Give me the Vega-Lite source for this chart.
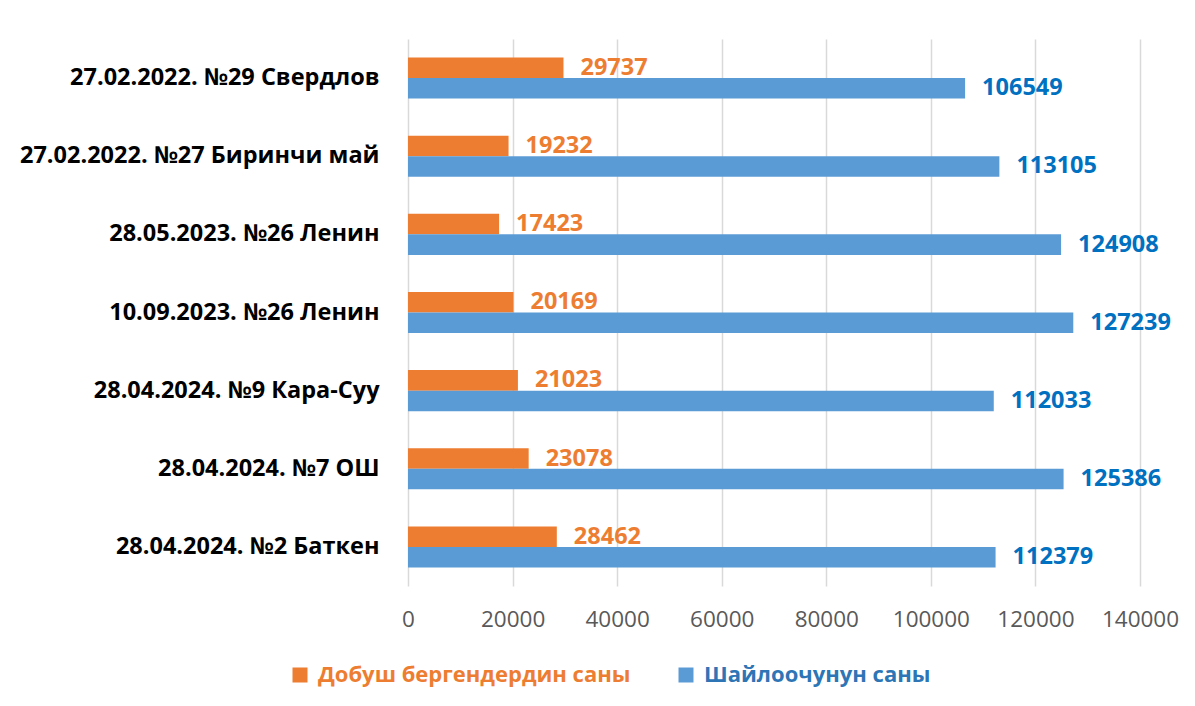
{
  "$schema": "https://vega.github.io/schema/vega-lite/v6.json",
  "width": 732,
  "height": 547,
  "autosize": {"type": "none"},
  "padding": {"left": 408, "top": 39, "right": 55, "bottom": 120},
  "background": "white",
  "config": {"view": {"stroke": null}, "font": "Open Sans"},
  "data": {
    "values": [
      {"cat": "27.02.2022. №29 Свердлов", "series": "Добуш бергендердин саны", "value": 29737},
      {"cat": "27.02.2022. №29 Свердлов", "series": "Шайлоочунун саны", "value": 106549},
      {"cat": "27.02.2022. №27 Биринчи май", "series": "Добуш бергендердин саны", "value": 19232},
      {"cat": "27.02.2022. №27 Биринчи май", "series": "Шайлоочунун саны", "value": 113105},
      {"cat": "28.05.2023. №26 Ленин", "series": "Добуш бергендердин саны", "value": 17423},
      {"cat": "28.05.2023. №26 Ленин", "series": "Шайлоочунун саны", "value": 124908},
      {"cat": "10.09.2023. №26 Ленин", "series": "Добуш бергендердин саны", "value": 20169},
      {"cat": "10.09.2023. №26 Ленин", "series": "Шайлоочунун саны", "value": 127239},
      {"cat": "28.04.2024. №9 Кара-Суу", "series": "Добуш бергендердин саны", "value": 21023},
      {"cat": "28.04.2024. №9 Кара-Суу", "series": "Шайлоочунун саны", "value": 112033},
      {"cat": "28.04.2024. №7 ОШ", "series": "Добуш бергендердин саны", "value": 23078},
      {"cat": "28.04.2024. №7 ОШ", "series": "Шайлоочунун саны", "value": 125386},
      {"cat": "28.04.2024. №2 Баткен", "series": "Добуш бергендердин саны", "value": 28462},
      {"cat": "28.04.2024. №2 Баткен", "series": "Шайлоочунун саны", "value": 112379}
    ]
  },
  "encoding": {
    "y": {
      "field": "cat",
      "type": "nominal",
      "sort": null,
      "title": null,
      "scale": {"paddingInner": 0.474, "paddingOuter": 0.237},
      "axis": {
        "domain": false,
        "ticks": false,
        "grid": false,
        "labelFont": "Open Sans",
        "labelFontSize": 23.5,
        "labelFontWeight": "bold",
        "labelColor": "#000000",
        "labelPadding": 29,
        "labelLimit": 400
      }
    },
    "yOffset": {
      "field": "series",
      "type": "nominal",
      "sort": ["Добуш бергендердин саны", "Шайлоочунун саны"]
    },
    "x": {
      "field": "value",
      "type": "quantitative",
      "title": null,
      "scale": {"domain": [0, 140000], "nice": false},
      "axis": {
        "values": [0, 20000, 40000, 60000, 80000, 100000, 120000, 140000],
        "format": "d",
        "domain": false,
        "ticks": false,
        "grid": true,
        "gridColor": "#D9D9D9",
        "gridWidth": 1.5,
        "labelFont": "Open Sans",
        "labelFontSize": 22.5,
        "labelColor": "#595959",
        "labelPadding": 22,
        "labelFlush": false,
        "labelOverlap": false
      }
    }
  },
  "layer": [
    {
      "mark": {"type": "bar"},
      "encoding": {
        "color": {
          "field": "series",
          "type": "nominal",
          "sort": ["Добуш бергендердин саны", "Шайлоочунун саны"],
          "scale": {"domain": ["Добуш бергендердин саны", "Шайлоочунун саны"], "range": ["#ED7D31", "#5B9BD5"]},
          "legend": {
            "title": null,
            "orient": "none",
            "legendX": -119,
            "legendY": 625,
            "direction": "horizontal",
            "symbolType": "square",
            "symbolSize": 225,
            "symbolStrokeWidth": 0,
            "labelFont": "Open Sans",
            "labelFontSize": 22,
            "labelFontWeight": "bold",
            "labelOffset": 7,
            "labelLimit": 500,
            "columnPadding": 44,
            "padding": 0,
            "encode": {
              "labels": {
                "update": {
                  "fill": {"signal": "datum.value === 'Добуш бергендердин саны' ? '#ED7D31' : '#2E75B6'"}
                }
              }
            }
          }
        }
      }
    },
    {
      "mark": {"type": "text", "align": "left", "baseline": "middle", "dx": 17, "font": "Open Sans", "fontSize": 23.5, "fontWeight": "bold"},
      "encoding": {
        "text": {"field": "value", "type": "quantitative", "format": "d"},
        "color": {
          "field": "series",
          "type": "nominal",
          "scale": {"domain": ["Добуш бергендердин саны", "Шайлоочунун саны"], "range": ["#ED7D31", "#0070C0"]},
          "legend": null
        }
      }
    }
  ],
  "resolve": {"scale": {"color": "independent"}}
}
